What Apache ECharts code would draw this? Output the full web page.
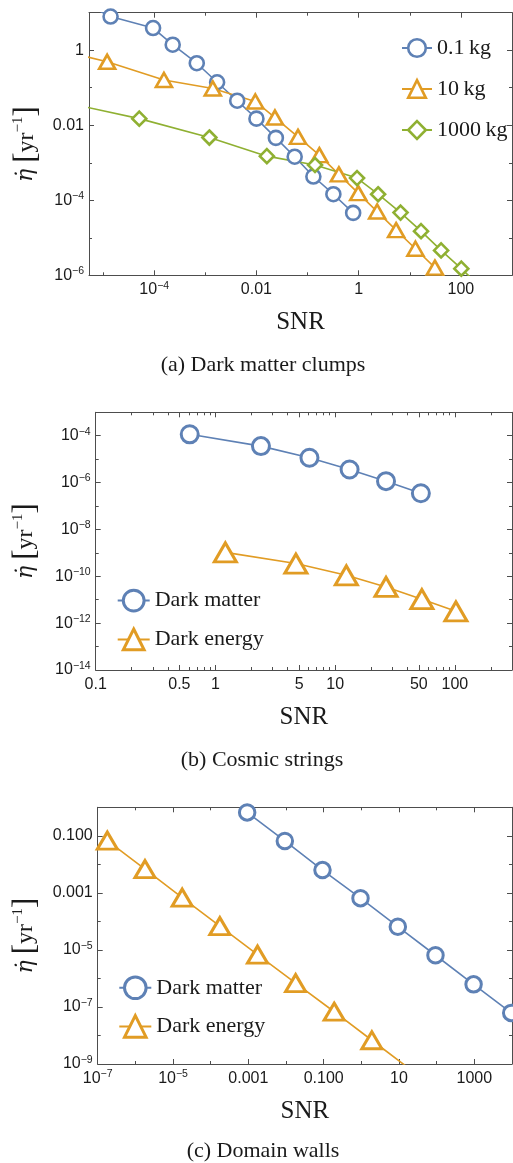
<!DOCTYPE html>
<html>
<head>
<meta charset="utf-8">
<title>Event rate vs SNR</title>
<script src="https://cdn.jsdelivr.net/npm/echarts@6/dist/echarts.min.js"></script>
<style>
  html, body { margin: 0; padding: 0; background: #fff; }
  #chart { width: 513px; height: 1163px; }
</style>
</head>
<body>
<div id="chart"></div>
<script>
// (a) dark matter clumps
const clumpSnr01 = [5.0e-6, 1.4e-5, 9.5e-5, 2.3e-4, 6.8e-4, 1.7e-3, 4.2e-3, 0.010, 0.024, 0.056, 0.13, 0.32, 0.78];
const clumpRate01 = [16, 7.9, 3.9, 1.4, 0.45, 0.14, 0.045, 0.015, 4.6e-3, 1.45e-3, 4.3e-4, 1.45e-4, 4.6e-5];
const clumpSnr10 = [8e-7, 1.2e-5, 1.55e-4, 1.4e-3, 9.5e-3, 0.023, 0.065, 0.17, 0.41, 0.98, 2.3, 5.4, 12.9, 31, 74];
const clumpRate10 = [1.2, 0.49, 0.16, 0.095, 0.043, 0.016, 4.9e-3, 1.6e-3, 4.9e-4, 1.55e-4, 5.0e-5, 1.6e-5, 5.1e-6, 1.6e-6, 5.1e-7];
const clumpSnr1000 = [2e-6, 5.1e-5, 1.2e-3, 0.016, 0.14, 0.93, 2.4, 6.6, 16.6, 41, 102, 250];
const clumpRate1000 = [0.039, 0.015, 4.7e-3, 1.5e-3, 8.7e-4, 3.9e-4, 1.45e-4, 4.7e-5, 1.5e-5, 4.6e-6, 1.5e-6, 4.7e-7];

// (b) cosmic strings
const stringSnrDM = [0.61, 2.4, 6.1, 13.2, 26.6, 52];
const stringRateDM = [1.15e-4, 3.6e-5, 1.15e-5, 3.6e-6, 1.15e-6, 3.5e-7];
const stringSnrDE = [1.21, 4.7, 12.4, 26.6, 53, 102];
const stringRateDE = [1.05e-9, 3.5e-10, 1.1e-10, 3.5e-11, 1.05e-11, 3.2e-12];

// (c) domain walls
const wallSnrDM = [9.3e-4, 9.3e-3, 0.093, 0.95, 9.3, 93, 955, 9550];
const wallRateDM = [0.66, 0.066, 6.3e-3, 6.5e-4, 6.5e-5, 6.5e-6, 6.2e-7, 6.2e-8];
const wallSnrDE = [1.8e-7, 1.8e-6, 1.75e-5, 1.75e-4, 1.75e-3, 0.018, 0.19, 1.9, 19];
const wallRateDE = [0.068, 6.8e-3, 6.8e-4, 6.8e-5, 6.8e-6, 6.8e-7, 6.8e-8, 6.8e-9, 6.8e-10];

// ticks
const aXLabels = [1e-4, 0.01, 1, 100];
const aXTexts = ['10^-4', '0.01', '1', '100'];
const aXMinor = [1e-5, 1e-3, 0.1, 10, 1000];
const aYLabels = [1e-6, 1e-4, 0.01, 1];
const aYTexts = ['10^-6', '10^-4', '0.01', '1'];
const aYMinor = [1e-5, 1e-3, 0.1, 10];

const bXLabels = [0.1, 0.5, 1, 5, 10, 50, 100];
const bXTexts = ['0.1', '0.5', '1', '5', '10', '50', '100'];
const bXMinor = [0.2, 0.3, 0.4, 0.6, 0.7, 0.8, 0.9, 2, 3, 4, 6, 7, 8, 9, 20, 30, 40, 60, 70, 80, 90, 200, 300];
const bYLabels = [1e-14, 1e-12, 1e-10, 1e-8, 1e-6, 1e-4];
const bYTexts = ['10^-14', '10^-12', '10^-10', '10^-8', '10^-6', '10^-4'];
const bYMinor = [1e-13, 1e-11, 1e-9, 1e-7, 1e-5, 1e-3];

const cXLabels = [1e-7, 1e-5, 1e-3, 0.1, 10, 1000];
const cXTexts = ['10^-7', '10^-5', '0.001', '0.100', '10', '1000'];
const cXMinor = [1e-6, 1e-4, 0.01, 1, 100, 1e4];
const cYLabels = [1e-9, 1e-7, 1e-5, 1e-3, 0.1];
const cYTexts = ['10^-9', '10^-7', '10^-5', '0.001', '0.100'];
const cYMinor = [1e-8, 1e-6, 1e-4, 0.01, 1];

const blue = '#5e81b5', orange = '#e19c24', green = '#8fb032';
const frame = '#4d4d4d';
const ink = '#1a1a1a';
const serif = 'Liberation Serif';
const sans = 'Liberation Sans';

const labelRich = {
  b: { fontFamily: sans, fontSize: 16, color: ink, lineHeight: 19 },
  s: { fontFamily: sans, fontSize: 10.5, color: ink, verticalAlign: 'top', padding: [0, 0, 8, 0] }
};
const nameRich = {
  e: { fontFamily: 'DejaVu Serif', fontStyle: 'italic', fontSize: 22, color: ink },
  k: { fontFamily: serif, fontSize: 31, color: ink },
  t: { fontFamily: serif, fontSize: 24, color: ink },
  s: { fontFamily: serif, fontSize: 15, color: ink, verticalAlign: 'top', padding: [0, 0, 12, 0] }
};

function fmt(text) {
  const m = /^10\^(.+)$/.exec(text);
  return m ? '{b|10}{s|' + m[1].replace('-', '\u2212') + '}' : '{b|' + text + '}';
}

function makeFormatter(vals, texts) {
  return v => {
    const i = vals.findIndex(t => Math.abs(Math.log10(t) - Math.log10(v)) < 1e-6);
    return i < 0 ? '' : fmt(texts[i]);
  };
}

// frame axis: labelled side + opposite side, each with a major and a minor tick axis
function frameAxes(dim, grid, min, max, labels, texts, minor, extra) {
  const sides = dim === 'x' ? ['bottom', 'top'] : ['left', 'right'];
  const base = { type: 'log', logBase: 10, gridIndex: grid, min: min, max: max,
    splitLine: { show: false }, splitArea: { show: false } };
  const list = [];
  sides.forEach((pos, k) => {
    list.push(Object.assign({}, base, {
      position: pos,
      axisLine: { show: true, onZero: false, lineStyle: { color: frame, width: 1 } },
      axisTick: { show: true, inside: true, length: 5, customValues: labels, lineStyle: { color: frame } },
      axisLabel: k === 0
        ? { show: true, customValues: labels, formatter: makeFormatter(labels, texts), rich: labelRich,
            margin: dim === 'x' ? 5 : 5 }
        : { show: false }
    }, k === 0 ? extra : {}));
    list.push(Object.assign({}, base, {
      position: pos,
      axisLine: { show: false },
      axisTick: { show: true, inside: true, length: 3, customValues: minor, lineStyle: { color: frame } },
      axisLabel: { show: false }
    }));
  });
  return list;
}

const yName = '{e|\u03b7\u0307} {k|[}{t|yr}{s|\u22121}{k|]}';
function xExtra() {
  return { name: 'SNR', nameLocation: 'middle', nameGap: 35,
    nameTextStyle: { fontFamily: serif, fontSize: 25, color: ink } };
}
function yExtra(gap) {
  return { name: yName, nameLocation: 'middle', nameRotate: 90, nameGap: gap,
    nameTextStyle: { fontFamily: serif, fontSize: 24, color: ink, rich: nameRich } };
}

function zip(xs, ys) { return xs.map((x, i) => [x, ys[i]]); }

function series(name, xs, ys, axisIdx, color, symbol, size, border) {
  return {
    type: 'line', name: name, xAxisIndex: axisIdx, yAxisIndex: axisIdx,
    data: zip(xs, ys), symbol: symbol, symbolSize: size, showSymbol: true, clip: true,
    itemStyle: { color: '#fff', borderColor: color, borderWidth: border },
    lineStyle: { color: color, width: 1.6 },
    emphasis: { disabled: true }, animation: false
  };
}

const xAxes = [].concat(
  frameAxes('x', 0, Math.pow(10, -5.276), 1000, aXLabels, aXTexts, aXMinor, xExtra()),
  frameAxes('x', 1, 0.1, 300, bXLabels, bXTexts, bXMinor, xExtra()),
  frameAxes('x', 2, 1e-7, 1e4, cXLabels, cXTexts, cXMinor, xExtra())
);
const yAxes = [].concat(
  frameAxes('y', 0, 1e-6, 10, aYLabels, aYTexts, aYMinor, yExtra(46)),
  frameAxes('y', 1, 1e-14, 1e-3, bYLabels, bYTexts, bYMinor, yExtra(54)),
  frameAxes('y', 2, 1e-9, 1, cYLabels, cYTexts, cYMinor, yExtra(56))
);

const legendText = { fontFamily: serif, fontSize: 22, color: ink };

const chart = echarts.init(document.getElementById('chart'), null, { renderer: 'canvas' });
chart.setOption({
  animation: false,
  backgroundColor: '#fff',
  grid: [
    { left: 89, top: 12.7, width: 423, height: 262.6, outerBoundsMode: 'none', containLabel: false },
    { left: 95.7, top: 412.3, width: 416.3, height: 257.7, outerBoundsMode: 'none', containLabel: false },
    { left: 97.7, top: 807.3, width: 414.3, height: 256.7, outerBoundsMode: 'none', containLabel: false }
  ],
  xAxis: xAxes,
  yAxis: yAxes,
  legend: [
    { data: ['0.1\u2009kg', '10\u2009kg', '1000\u2009kg'], orient: 'vertical', left: 396, top: 32,
      itemWidth: 30, itemHeight: 22, itemGap: 19, selectedMode: false, textStyle: legendText,
      itemStyle: { borderWidth: 2.6 } },
    { data: ['Dark matter', 'Dark energy'], orient: 'vertical', left: 111.7, top: 583.7,
      itemWidth: 32, itemHeight: 26, itemGap: 15, selectedMode: false, textStyle: legendText,
      itemStyle: { borderWidth: 3 } },
    { data: ['Dark matter', 'Dark energy'], orient: 'vertical', left: 113.3, top: 970.5,
      itemWidth: 32, itemHeight: 27, itemGap: 14, selectedMode: false, textStyle: legendText,
      itemStyle: { borderWidth: 3 } }
  ],
  series: [
    series('0.1\u2009kg', clumpSnr01, clumpRate01, 0, blue, 'circle', 14, 2.6),
    series('10\u2009kg', clumpSnr10, clumpRate10, 0, orange, 'triangle', [16, 14], 2.6),
    series('1000\u2009kg', clumpSnr1000, clumpRate1000, 0, green, 'diamond', [14, 14], 2.6),
    series('Dark matter', stringSnrDM, stringRateDM, 4, blue, 'circle', 17, 3),
    series('Dark energy', stringSnrDE, stringRateDE, 4, orange, 'triangle', [22, 19], 3),
    series('Dark matter', wallSnrDM, wallRateDM, 8, blue, 'circle', 15.5, 3),
    series('Dark energy', wallSnrDE, wallRateDE, 8, orange, 'triangle', [20, 17], 3)
  ],
  graphic: [
    { type: 'text', x: 263, y: 365, style: { text: '(a) Dark matter clumps', font: '22px "Liberation Serif"', fill: ink, align: 'center', verticalAlign: 'middle' } },
    { type: 'text', x: 262, y: 760, style: { text: '(b) Cosmic strings', font: '22px "Liberation Serif"', fill: ink, align: 'center', verticalAlign: 'middle' } },
    { type: 'text', x: 263, y: 1151.7, style: { text: '(c) Domain walls', font: '22px "Liberation Serif"', fill: ink, align: 'center', verticalAlign: 'middle' } }
  ]
});
</script>
</body>
</html>
